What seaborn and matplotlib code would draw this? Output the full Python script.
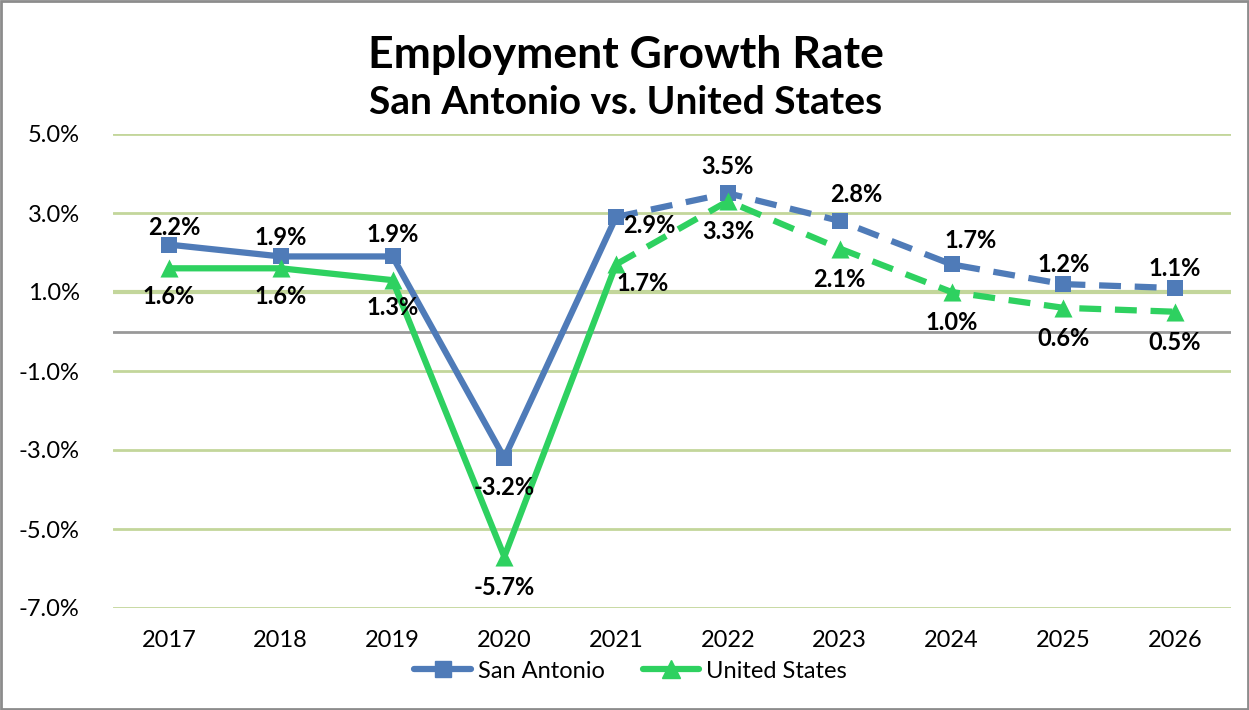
import matplotlib
matplotlib.use("Agg")
import matplotlib.pyplot as plt
import seaborn as sns
import pandas as pd
from matplotlib.lines import Line2D
from matplotlib.patches import Rectangle

years = ["2017", "2018", "2019", "2020", "2021", "2022", "2023", "2024", "2025", "2026"]
san_antonio = [2.2, 1.9, 1.9, -3.2, 2.9, 3.5, 2.8, 1.7, 1.2, 1.1]
united_states = [1.6, 1.6, 1.3, -5.7, 1.7, 3.3, 2.1, 1.0, 0.6, 0.5]
y_ticks = [5.0, 3.0, 1.0, -1.0, -3.0, -5.0, -7.0]
forecast_start = "2021"

# label offsets (points) for each series
sa_offsets = [(4, 12), (0, 14), (0, 16), (0, -21), (24, -6), (0, 19), (12, 19), (14, 17), (0, 14), (0, 14)]
us_offsets = [(0, -20), (0, -20), (0, -20), (0, -22), (19, -14), (0, -22), (0, -22), (0, -22), (0, -22), (0, -22)]

BLUE = "#4F7BB8"
GREEN = "#2ED160"
GRID = "#C3D69B"

sns.set_theme(style="white")
plt.rcParams["font.family"] = ["Lato", "DejaVu Sans"]
plt.rcParams["text.color"] = "black"
plt.rcParams["xtick.color"] = "black"
plt.rcParams["ytick.color"] = "black"

fig = plt.figure(figsize=(12.49, 7.10), dpi=100)
ax = fig.add_axes([113 / 1249, 1 - 608 / 710, (1231 - 113) / 1249, (608 - 134) / 710])

x = list(range(len(years)))
split = years.index(forecast_start)
df = pd.DataFrame({"x": x, "sa": san_antonio, "us": united_states})
hist = df.iloc[: split + 1]
fcst = df.iloc[split:]

# gridlines
for t in y_ticks:
    ax.axhline(t, color=GRID, lw=3 if t == 1.0 else 2, zorder=0)
ax.axhline(0, color="#999999", lw=2, zorder=0.5)

for col, color, marker, ms in [("sa", BLUE, "s", 11), ("us", GREEN, "^", 13)]:
    sns.lineplot(data=hist, x="x", y=col, ax=ax, color=color, lw=4.5, zorder=3)
    sns.lineplot(data=fcst, x="x", y=col, ax=ax, color=color, lw=4.5, zorder=3,
                 linestyle=(0, (3.5, 2.2)))
    sns.scatterplot(data=df, x="x", y=col, ax=ax, color=color, marker=marker,
                    s=ms ** 2, edgecolor=color, linewidth=0, zorder=4)

for xi, v, off in zip(x, san_antonio, sa_offsets):
    ax.annotate(f"{v:.1f}%", (xi, v), xytext=off, textcoords="offset points",
                ha="center", va="center", fontsize=17, fontweight="bold", zorder=5)
for xi, v, off in zip(x, united_states, us_offsets):
    ax.annotate(f"{v:.1f}%", (xi, v), xytext=off, textcoords="offset points",
                ha="center", va="center", fontsize=17, fontweight="bold", zorder=5)

ax.set_xlim(-0.5, len(years) - 0.5)
ax.set_ylim(-7, 5)
ax.set_xticks(x)
ax.set_xticklabels(years, fontsize=17)
ax.set_yticks(y_ticks)
ax.set_yticklabels([f"{t:.1f}%" for t in y_ticks], fontsize=17)
ax.tick_params(axis="x", length=0, pad=16)
ax.tick_params(axis="y", length=0, pad=24)
ax.set_xlabel("")
ax.set_ylabel("")
for s in ax.spines.values():
    s.set_visible(False)

fig.text(0.501, 1 - 55 / 710, "Employment Growth Rate", ha="center", va="center",
         fontsize=32, fontweight="bold")
fig.text(0.501, 1 - 103 / 710, "San Antonio vs. United States", ha="center", va="center",
         fontsize=28, fontweight="bold")

handles = [
    Line2D([0], [0], color=BLUE, lw=4.5, marker="s", markersize=11),
    Line2D([0], [0], color=GREEN, lw=4.5, marker="^", markersize=13),
]
fig.legend(handles, ["San Antonio", "United States"], loc="center",
           bbox_to_anchor=(0.505, 1 - 671 / 710), ncol=2, frameon=False,
           fontsize=17, handlelength=2.4, columnspacing=1.6, handletextpad=0.3)

fig.patches.append(Rectangle((0.001, 0.001), 0.998, 0.997, transform=fig.transFigure,
                             fill=False, edgecolor="#8C8C8C", lw=2))

fig.savefig("out.png", dpi=100)
